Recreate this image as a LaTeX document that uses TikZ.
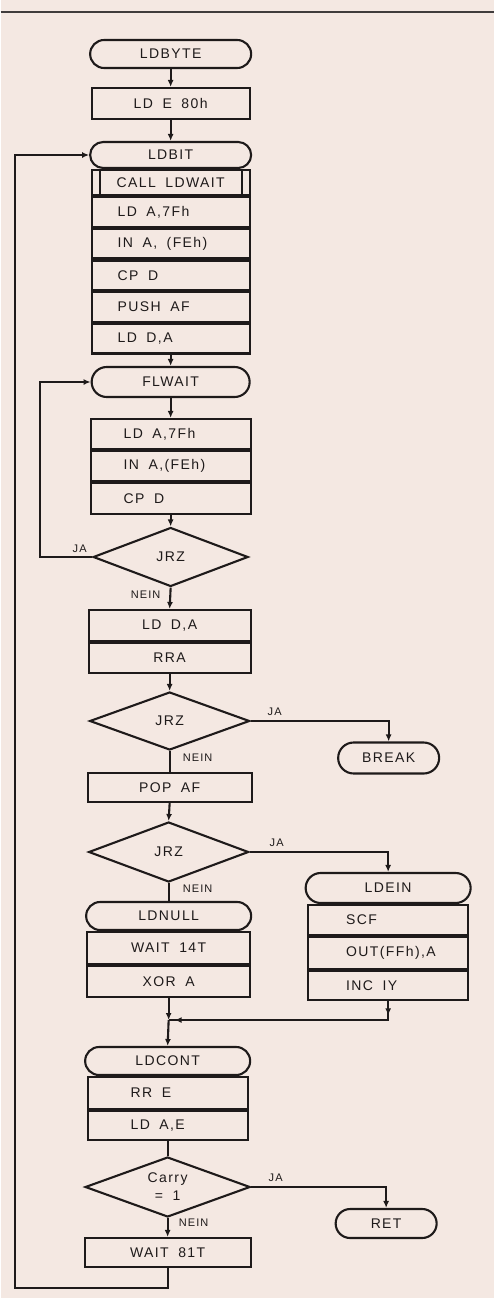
\documentclass[tikz,border=0pt]{standalone}
\usepackage{fontspec}
\setmainfont{Liberation Sans}[LetterSpace=10, WordSpace=1.8]
\usetikzlibrary{shapes.misc,shapes.geometric,arrows.meta,decorations.markings}
\definecolor{paper}{RGB}{244,232,226}
\definecolor{ink}{RGB}{30,26,26}

\begin{document}
\begin{tikzpicture}[
  x=1pt, y=-1pt,
  every node/.style={text=ink, font=\fontsize{14}{18}\selectfont},
  line/.style={draw=ink, line width=2.1pt},
  flow/.style={line, -{Latex[length=7pt,width=6pt]}},
  joinarrows/.style={postaction={decorate},
    decoration={markings,
      mark=at position 14pt with {\arrow{Latex[length=7pt,width=6pt]}},
      mark=at position -6pt with {\arrow{Latex[length=7pt,width=6pt]}}}},
  term/.style={line, rounded rectangle, minimum width=161, minimum height=28, inner sep=0},
  stepbox/.style={line, rectangle, minimum width=158, minimum height=30, inner sep=0},
  leftbox/.style={stepbox, text width=#1, align=flush left},
  subr/.style={stepbox, path picture={
    \draw[ink, line width=2.1pt]
      ([xshift=8pt]path picture bounding box.north west) -- ([xshift=8pt]path picture bounding box.south west)
      ([xshift=-8pt]path picture bounding box.north east) -- ([xshift=-8pt]path picture bounding box.south east);}},
  cond/.style={line, diamond, aspect=2.7, inner sep=0, align=center},
  lbl/.style={font=\fontsize{11}{13}\selectfont}
]
  \fill[paper] (0,0) rectangle (493,1298);
  \draw[ink!85, line width=1.3pt] (0,12) -- (493,12);

  % main column
  \node[term] (ldbyte) at (170,54) {LDBYTE};
  \node[stepbox, minimum height=31] (lde) at (170,103.5) {LD E 80h};
  \node[term, minimum height=26] (ldbit) at (170,155) {LDBIT};
  \node[subr, minimum height=25] (call) at (170,182.5) {CALL LDWAIT};
  \node[leftbox=106, minimum height=29.6, anchor=north] (lda1) at (call.south) {LD A,7Fh};
  \node[leftbox=106, minimum height=29.6, anchor=north] (ina1) at (lda1.south) {IN A, (FEh)};
  \node[leftbox=106, minimum height=29.6, anchor=north] (cpd1) at (ina1.south) {CP D};
  \node[leftbox=106, minimum height=29.6, anchor=north] (push) at (cpd1.south) {PUSH AF};
  \node[leftbox=106, minimum height=29.6, anchor=north] (ldda1) at (push.south) {LD D,A};

  \node[term, minimum width=158, minimum height=30] (flwait) at (170,382) {FLWAIT};
  \node[leftbox=94, minimum width=160] (lda2) at (170,434) {LD A,7Fh};
  \node[leftbox=94, minimum width=160, anchor=north] (ina2) at (lda2.south) {IN A,(FEh)};
  \node[leftbox=94, minimum width=160, minimum height=31, anchor=north] (cpd2) at (ina2.south) {CP D};
  \node[cond, minimum width=155, minimum height=59] (jrz1) at (170,557) {JRZ};

  \node[stepbox, minimum width=162, minimum height=31] (ldda2) at (169,625.5) {LD D,A};
  \node[stepbox, minimum width=162, anchor=north] (rra) at (ldda2.south) {RRA};
  \node[cond, minimum width=160, minimum height=58] (jrz2) at (169,721) {JRZ};
  \node[term, minimum width=101, minimum height=31] (brk) at (388,758) {BREAK};
  \node[stepbox, minimum width=164, minimum height=29] (popaf) at (169,787.5) {POP AF};
  \node[cond, minimum width=160, minimum height=60] (jrz3) at (168,852) {JRZ};

  % right branch
  \node[term, minimum width=165, minimum height=30] (ldein) at (387.5,888) {LDEIN};
  \node[leftbox=84, minimum width=160, anchor=north] (scf) at (ldein.south) {SCF};
  \node[leftbox=84, minimum width=160, minimum height=32, anchor=north] (out) at (scf.south) {OUT(FFh),A};
  \node[leftbox=84, minimum width=160, minimum height=29, anchor=north] (incy) at (out.south) {INC IY};

  \node[term, minimum width=165, minimum height=28] (ldnull) at (168,916) {LDNULL};
  \node[stepbox, minimum width=163, minimum height=32, anchor=north] (wait14) at (ldnull.south) {WAIT 14T};
  \node[stepbox, minimum width=163, minimum height=31, anchor=north] (xora) at (wait14.south) {XOR A};
  \coordinate (join) at (168,1020);

  \node[term, minimum width=165, minimum height=28] (ldcont) at (167,1061) {LDCONT};
  \node[leftbox=74, minimum width=160, minimum height=32, anchor=north] (rre) at (ldcont.south) {RR E};
  \node[leftbox=74, minimum width=160, minimum height=29, anchor=north] (ldae) at (rre.south) {LD A,E};
  \node[cond, minimum width=165, minimum height=60] (carry) at (167,1187) {Carry\\= 1};
  \node[term, minimum width=101, minimum height=29] (ret) at (385.5,1223.5) {RET};
  \node[stepbox, minimum width=166, minimum height=29] (wait81) at (167,1252.5) {WAIT 81T};

  \coordinate (inner) at (39,557);
  \coordinate (outer) at (14,1288);

  % connectors
  \draw[flow] (ldbyte.south) -- (lde.north);
  \draw[flow] (lde.south) -- (ldbit.north);
  \draw[flow] (ldda1.south) -- (flwait.north);
  \draw[flow] (flwait.south) -- (lda2.north);
  \draw[flow] (cpd2.south) -- (jrz1.north);
  \draw[flow] (jrz1.south) -- (ldda2.north);
  \draw[flow] (rra.south) -- (jrz2.north);
  \draw[line] (jrz2.south) -- (popaf.north);
  \draw[flow] (popaf.south) -- (jrz3.north);
  \draw[line] (jrz3.south) -- (ldnull.north);
  \draw[flow] (xora.south) -- (join);
  \draw[line, joinarrows] (incy.south) |- (join);
  \draw[flow] (join) -- (ldcont.north);
  \draw[line] (ldae.south) -- (carry.north);
  \draw[flow] (carry.south) -- (wait81.north);
  \draw[flow] (jrz2.east) -| (brk.north);
  \draw[flow] (jrz3.east) -| (ldein.north);
  \draw[flow] (carry.east) -| (ret.north);
  \draw[flow] (jrz1.west) -- (inner) |- (flwait.west);
  \draw[flow] (wait81.south) |- (outer) |- (ldbit.west);

  % branch labels
  \node[lbl] (ja1) at (79,549) {JA};
  \node[lbl] (nein1) at (145,595) {NEIN};
  \node[lbl] (ja2) at (274,712) {JA};
  \node[lbl] (nein2) at (197,758) {NEIN};
  \node[lbl] (ja3) at (276,843) {JA};
  \node[lbl] (nein3) at (197,889) {NEIN};
  \node[lbl] (ja4) at (275,1178) {JA};
  \node[lbl] (nein4) at (193,1223) {NEIN};
\end{tikzpicture}
\end{document}
